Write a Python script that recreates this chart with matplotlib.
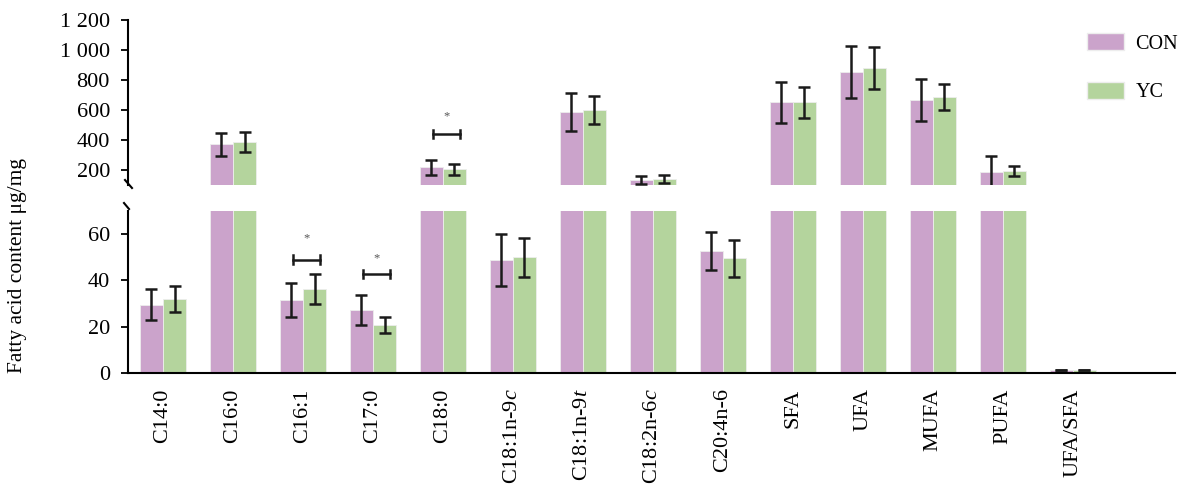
import numpy as np
import matplotlib
matplotlib.use("Agg")
from matplotlib import pyplot as plt
from matplotlib.patches import Patch

plt.rcParams["font.family"] = ["Liberation Serif", "DejaVu Serif"]
plt.rcParams["mathtext.fontset"] = "custom"
plt.rcParams["mathtext.rm"] = "Liberation Serif"
plt.rcParams["mathtext.it"] = "Liberation Serif:italic"

categories = ["C14:0", "C16:0", "C16:1", "C17:0", "C18:0", "C18:1n-9$\\it{c}$",
              "C18:1n-9$\\it{t}$", "C18:2n-6$\\it{c}$", "C20:4n-6", "SFA", "UFA",
              "MUFA", "PUFA", "UFA/SFA"]
con_mean = [29.5, 371, 31.5, 27.2, 218, 48.8, 585, 133, 52.6, 651, 855, 667, 189, 1.3]
con_err = [6.6, 78, 7.2, 6.6, 49, 11.2, 126, 29, 8.3, 138, 172, 140, 104, 0.1]
yc_mean = [31.9, 389, 36.2, 20.7, 204, 50.0, 600, 140, 49.6, 651, 878, 687, 193, 1.35]
yc_err = [5.5, 66, 6.4, 3.6, 36, 8.5, 95, 27, 8.0, 102, 140, 88, 34, 0.1]
groups = ["CON", "YC"]
colors = ["#CBA3CB", "#B4D49D"]

# significant pairs: (category index, which panel, bracket height, star height)
signif = [(2, "low", 49, 58), (3, "low", 42.7, 49.6), (4, "high", 438, 560)]

x = np.arange(len(categories))
w = 0.33

fig = plt.figure(figsize=(11.84, 4.9), dpi=100)
left, right = 128 / 1184, 1175 / 1184
ax_hi = fig.add_axes([left, 1 - 185 / 490, right - left, (185 - 20) / 490])
ax_lo = fig.add_axes([left, 1 - 373 / 490, right - left, (373 - 211) / 490])

for ax in (ax_hi, ax_lo):
    for off, mean, err, c in ((-w / 2, con_mean, con_err, colors[0]),
                              (w / 2, yc_mean, yc_err, colors[1])):
        ax.bar(x + off, mean, width=w, color=c, edgecolor="#EDEDED", linewidth=0.6)
        ax.errorbar(x + off, mean, yerr=err, fmt="none", ecolor="#1A1A1A",
                    elinewidth=1.8, capsize=4.5, capthick=1.8)
    ax.set_xlim(-0.5, 14.46)
    for s in ("top", "right"):
        ax.spines[s].set_visible(False)
    ax.spines["left"].set_linewidth(1.5)
    ax.tick_params(axis="y", length=5, width=1.3, pad=8, labelsize=16)

ax_hi.set_ylim(100, 1200)
ax_hi.set_yticks([200, 400, 600, 800, 1000, 1200])
ax_hi.set_yticklabels(["200", "400", "600", "800", "1 000", "1 200"])
ax_hi.spines["bottom"].set_visible(False)
ax_hi.set_xticks([])

ax_lo.set_ylim(0, 70)
ax_lo.set_yticks([0, 20, 40, 60])
ax_lo.spines["bottom"].set_linewidth(1.5)
ax_lo.set_xticks(x)
ax_lo.set_xticklabels(categories, rotation=90, va="top", ha="center")
ax_lo.tick_params(axis="x", length=0, pad=11, labelsize=16)

# break marks on the left spine
kw = dict(color="black", lw=1.5, clip_on=False, transform=fig.transFigure)
fig.add_artist(plt.Line2D([125 / 1184, 132 / 1184], [1 - 180 / 490, 1 - 188 / 490], **kw))
fig.add_artist(plt.Line2D([124 / 1184, 129 / 1184], [1 - 203 / 490, 1 - 209 / 490], **kw))

# significance brackets
for i, panel, yb, ys in signif:
    ax = ax_lo if panel == "low" else ax_hi
    h = 1.8 if panel == "low" else 28
    x0, x1 = i - 0.19 + 0.05, i + 0.19 + 0.05
    ax.plot([x0, x1], [yb, yb], color="#1A1A1A", lw=1.8)
    ax.plot([x0, x0], [yb - h, yb + h], color="#1A1A1A", lw=1.8)
    ax.plot([x1, x1], [yb - h, yb + h], color="#1A1A1A", lw=1.8)
    ax.text(i + 0.05, ys, "*", ha="center", va="center", fontsize=9, color="#555555")

fig.text(18 / 1184, 1 - 265 / 490, "Fatty acid content μg/mg", rotation=90,
         ha="center", va="center", fontsize=15.5)

handles = [Patch(facecolor=c, edgecolor="#EDEDED") for c in colors]
fig.legend(handles, groups, loc="upper left", bbox_to_anchor=(1087 / 1184, 1 - 33 / 490),
           frameon=False, fontsize=14.5, handlelength=1.85, handleheight=0.95,
           labelspacing=1.4, handletextpad=0.55, borderpad=0, borderaxespad=0)

fig.savefig("out.png", dpi=100)
